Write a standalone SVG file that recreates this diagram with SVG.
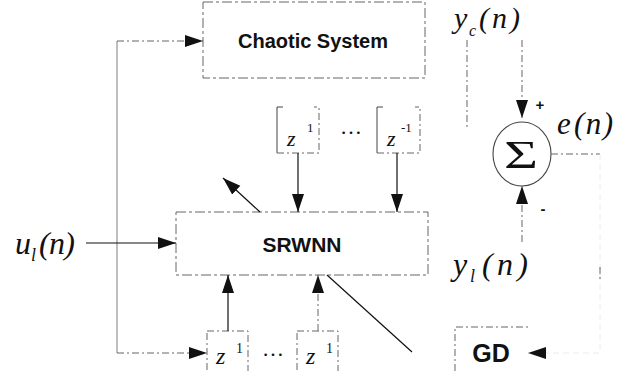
<svg xmlns="http://www.w3.org/2000/svg" width="627" height="371" viewBox="0 0 627 371">
<style>
.bx{fill:none;stroke:#666;stroke-width:1;stroke-dasharray:10,3,3,3}
.br{fill:none;stroke:#444;stroke-width:1}
.fd{fill:none;stroke:#666;stroke-width:1;stroke-dasharray:7,3,2,3}
.vl{fill:none;stroke:#ececec;stroke-width:1;stroke-dasharray:6,4}
.gr{fill:none;stroke:#888;stroke-width:1.1}
.sd{fill:none;stroke:#111;stroke-width:1.2}
.lb{font-family:"Liberation Sans",Arial,sans-serif;font-weight:bold;fill:#111}
.m{font-family:"Liberation Serif","Times New Roman",serif;font-style:italic;fill:#111}
.s{font-family:"Liberation Serif","Times New Roman",serif;fill:#111}
</style>
<defs>
<marker id="ah" markerUnits="userSpaceOnUse" markerWidth="19" markerHeight="13" refX="18" refY="6" orient="auto">
<path d="M0,0 L18,6 L0,12 Z" fill="#111"/>
</marker>
</defs>
<rect width="627" height="371" fill="#fff"/>

<g id="chaotic-system">
<rect class="bx" x="203" y="2" width="222" height="76"/>
<text class="lb" x="313" y="48" font-size="20" text-anchor="middle">Chaotic System</text>
</g>

<g id="delay-top-1">
<path class="br" d="M283,107 H277 V153"/>
<path class="fd" d="M277,153 H319 V107 H314"/>
<text class="m" x="287" y="146" font-size="22">z</text>
<text class="s" x="307" y="132" font-size="13">1</text>
</g>
<text class="s" x="340" y="134" font-size="22">…</text>
<g id="delay-top-2">
<path class="br" d="M383,107 H377 V153"/>
<path class="fd" d="M377,153 H420 V107 H415"/>
<text class="m" x="387" y="146" font-size="22">z</text>
<text class="s" x="401" y="132" font-size="13">-1</text>
</g>

<g id="srwnn">
<rect class="bx" x="176" y="212" width="252" height="63"/>
<text class="lb" x="302" y="252" font-size="21" text-anchor="middle">SRWNN</text>
</g>

<g id="delay-bottom-1">
<rect class="fd" x="207" y="331" width="41" height="46"/>
<text class="m" x="216" y="364" font-size="24">z</text>
<text class="s" x="236" y="353" font-size="14">1</text>
</g>
<text class="s" x="262" y="356" font-size="22">…</text>
<g id="delay-bottom-2">
<rect class="fd" x="297" y="331" width="41" height="46"/>
<text class="m" x="306" y="364" font-size="24">z</text>
<text class="s" x="326" y="353" font-size="14">1</text>
</g>

<g id="gd">
<path class="fd" d="M455,371 V327 H528"/>
<text class="lb" x="491" y="362" font-size="25" text-anchor="middle">GD</text>
</g>

<g id="sum">
<ellipse cx="522" cy="154" rx="29" ry="32" fill="none" stroke="#444" stroke-width="1.1"/>
<text class="s" x="504" y="168" font-size="40" textLength="34" lengthAdjust="spacingAndGlyphs">Σ</text>
<text class="lb" x="540" y="110" font-size="15" text-anchor="middle">+</text>
<text class="lb" x="543" y="214" font-size="15" text-anchor="middle">-</text>
</g>

<g id="labels">
<text class="m" font-size="32" y="254"><tspan x="15">u</tspan><tspan x="31" y="261" font-size="18">l</tspan><tspan x="39" y="254" textLength="36">(n)</tspan></text>
<text class="m" font-size="30" y="28"><tspan x="454">y</tspan><tspan x="469" y="36" font-size="16">c</tspan><tspan x="479" y="28" textLength="41">(n)</tspan></text>
<text class="m" font-size="31" y="134"><tspan x="557">e</tspan><tspan x="574" textLength="39">(n)</tspan></text>
<text class="m" font-size="32" y="275"><tspan x="453">y</tspan><tspan x="470" y="282" font-size="18">l</tspan><tspan x="482" y="275" textLength="46">(n)</tspan></text>
</g>

<g id="connectors">
<line class="gr" x1="117" y1="41" x2="117" y2="353"/>
<line class="fd" x1="117" y1="41" x2="203" y2="41" marker-end="url(#ah)"/>
<line class="fd" x1="117" y1="353" x2="207" y2="353" marker-end="url(#ah)"/>
<line class="sd" x1="298" y1="153" x2="298" y2="212" marker-end="url(#ah)"/>
<line class="sd" x1="397" y1="153" x2="397" y2="212" marker-end="url(#ah)"/>
<line class="sd" x1="260" y1="212" x2="223" y2="178" marker-end="url(#ah)"/>
<line class="sd" x1="86" y1="243" x2="176" y2="243" marker-end="url(#ah)"/>
<line class="sd" x1="228" y1="331" x2="228" y2="275" marker-end="url(#ah)"/>
<line class="fd" x1="318" y1="331" x2="318" y2="275" marker-end="url(#ah)"/>
<line class="sd" x1="327" y1="275" x2="412" y2="352"/>
<line class="fd" x1="522" y1="40" x2="522" y2="118" marker-end="url(#ah)"/>
<line class="fd" x1="467" y1="40" x2="467" y2="128"/>
<line class="fd" x1="522" y1="242" x2="522" y2="186" marker-end="url(#ah)"/>
<line class="fd" x1="551" y1="154" x2="600" y2="154"/>
<path class="vl" d="M600,154 V353 H528" marker-end="url(#ah)"/>
<line class="fd" x1="600" y1="267" x2="600" y2="282"/>
</g>
</svg>
